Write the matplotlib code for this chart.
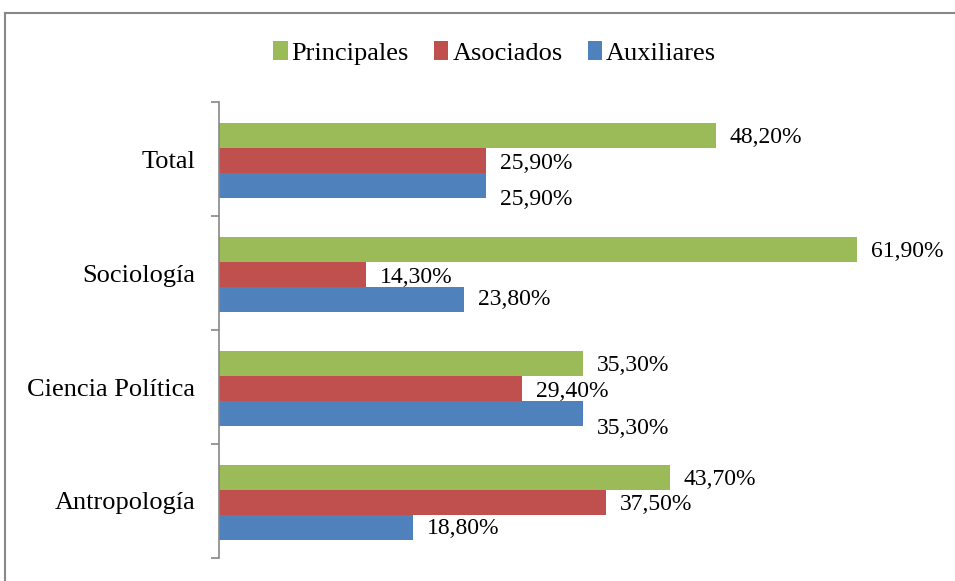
import numpy as np
import matplotlib
matplotlib.use("Agg")
import matplotlib.pyplot as plt
from matplotlib.lines import Line2D

plt.rcParams['font.family'] = ['Liberation Serif', 'DejaVu Serif']

categorias = ['Antropología', 'Ciencia Política', 'Sociología', 'Total']
principales = [43.7, 35.3, 61.9, 48.2]
asociados = [37.5, 29.4, 14.3, 25.9]
auxiliares = [18.8, 35.3, 23.8, 25.9]
series = ['Principales', 'Asociados', 'Auxiliares']
colores = ['#9BBB59', '#C0504D', '#4F81BD']

# label nudges (pixels down) for the blue labels that were moved in the original
nudge_aux = [2, 16, 1, 15]

fig = plt.figure(figsize=(9.55, 5.81), dpi=100)
ax = fig.add_axes([0.2293, 0.0396, 0.7557, 0.7848])

y = np.arange(len(categorias))
h = 0.22
datos = [principales, asociados, auxiliares]
offs = [h, 0, -h]
for vals, col, off, name in zip(datos, colores, offs, series):
    ax.barh(y + off - 0.015, vals, height=h, color=col, label=name)

for i in range(len(categorias)):
    for k, vals in enumerate(datos):
        dy = nudge_aux[i] if k == 2 else 4
        ax.annotate(('%.2f%%' % vals[i]).replace('.', ','),
                    xy=(vals[i], y[i] + offs[k]), xytext=(14, -dy),
                    textcoords='offset pixels', ha='left', va='center',
                    fontsize=17)

ax.set_xlim(0, 70)
ax.set_ylim(-0.5, 3.5)
ax.set_yticks(y)
ax.set_yticklabels(categorias, fontsize=19)
ax.tick_params(axis='y', which='major', length=0, pad=17)
ax.set_yticks(np.arange(-0.5, 4.0, 1.0), minor=True)
ax.tick_params(axis='y', which='minor', length=6, color='#888888', width=1.2)
ax.set_xticks([])
for s in ['top', 'right', 'bottom']:
    ax.spines[s].set_visible(False)
ax.spines['left'].set_color('#888888')
ax.spines['left'].set_linewidth(1.2)

fig.legend(loc='center', bbox_to_anchor=(0.518, 0.909), ncol=3, frameon=False,
           fontsize=19, handlelength=0.55, handleheight=0.75,
           handletextpad=0.15, columnspacing=0.95, borderpad=0)

# outer chart frame (cropped at right and bottom)
fig.add_artist(Line2D([5/955, 5/955], [0, 1 - 13/581], transform=fig.transFigure,
                      color='#888888', lw=1.5))
fig.add_artist(Line2D([5/955, 1], [1 - 13/581, 1 - 13/581], transform=fig.transFigure,
                      color='#888888', lw=1.5))

fig.savefig('out.png', dpi=100)
